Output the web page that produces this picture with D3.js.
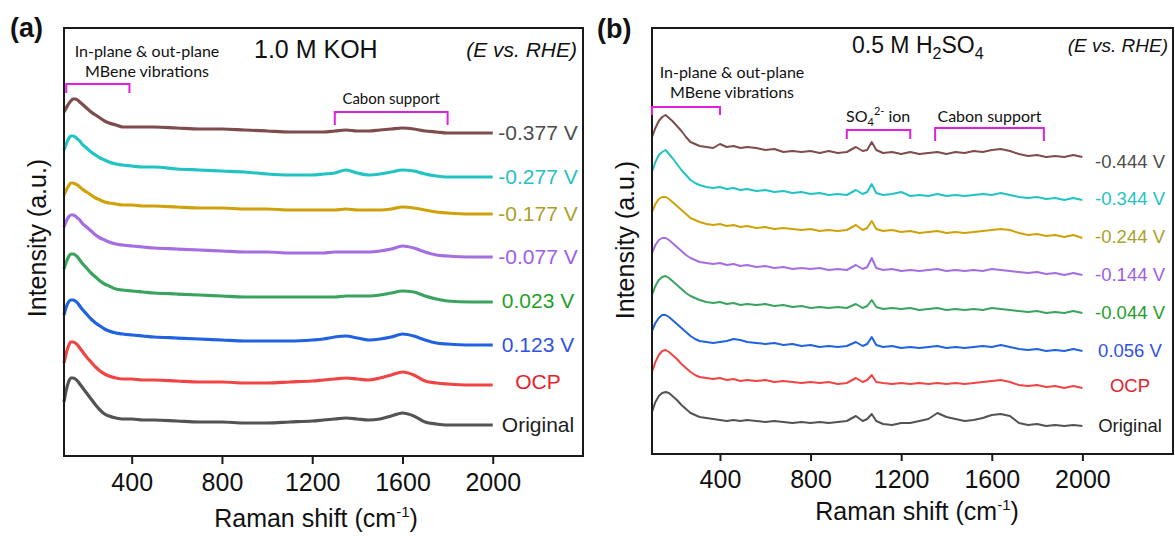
<!DOCTYPE html>
<html>
<head>
<meta charset="utf-8">
<script src="https://cdn.jsdelivr.net/npm/d3@7"></script>
<style>
  body { margin: 0; background: #fff; }
  text { font-family: "Liberation Sans", Arial, sans-serif; }
  .note { font-family: Lato, "Open Sans", sans-serif; }
</style>
</head>
<body>
<svg id="fig" width="1175" height="536"></svg>
<script>
// ---- data (intensity in a.u., each curve relative to its own baseline) ----
const kohShift = [100,110,120,130,140,150,160,170,180,200,220,240,260,280,300,330,360,
  400,450,500,600,700,800,900,1000,1100,1200,1250,1300,1350,1400,1450,1500,1550,1600,
  1650,1700,1750,1800,1900,2000];
const kohLabels = ["-0.377 V","-0.277 V","-0.177 V","-0.077 V","0.023 V","0.123 V","OCP","Original"];
const kohOffsets = [323, 279, 242, 199, 154, 111, 71, 31];
const kohSpectra = [
  [21,25,29,32,34,34,33,31,29, 25,21,18,15,12,10,8,6, 6,6,6,5,4,4,3, 2,1,1,1, 2,3,2,2,3,4,5,4,2,1,0, 0,0],
  [27,33,38,41,41,40,38,36,33, 29,25,22,19,17,15,13,12, 11,10,10,8,7,6,5, 3,2,2,3, 4,7,4,2,3,5,7,6,3,1,0, 0,0],
  [19,24,28,31,31,30,29,27,25, 22,19,16,14,12,11,10,9, 9,8,8,7,6,6,5, 5,4,4,4, 4,5,4,4,4,5,7,6,4,2,1, 0,0],
  [30,36,40,42,42,41,39,37,34, 30,26,22,19,17,15,13,12, 11,10,9,8,7,6,5, 5,4,4,4, 5,5,5,5,6,8,11,9,5,2,1, 0,0],
  [33,40,45,48,48,47,45,42,39, 34,29,25,21,18,16,13,12, 11,10,9,8,7,6,5, 5,5,5,5, 5,6,6,6,7,9,11,10,6,3,1, 0,0],
  [30,38,43,45,45,44,42,39,36, 31,26,22,19,16,14,12,11, 10,9,8,7,6,5,4, 4,4,5,6, 8,9,7,5,6,8,11,9,5,2,1, 0,0],
  [22,32,39,43,43,42,40,37,34, 28,23,18,14,11,9,7,6, 6,5,5,4,3,3,2, 2,3,4,5, 6,7,6,5,7,10,13,10,4,2,1, 0,0],
  [23,35,43,47,47,46,44,41,38, 32,26,20,15,11,9,7,6, 6,5,5,4,3,3,2, 2,3,4,5, 6,7,6,5,6,9,12,9,3,1,0, 0,0]
];

const acidShift = [100,115,130,145,160,175,190,210,230,250,270,290,310,340,370,400,430,460,490,520,
  560,600,640,680,720,760,800,840,880,920,960,1000,1030,1050,1070,1090,1120,
  1160,1200,1240,1280,1320,1360,1400,1440,1480,1520,1560,1600,1640,1680,1720,1760,1800,1840,1880,1920,1960,2000];
const acidLabels = ["-0.444 V","-0.344 V","-0.244 V","-0.144 V","-0.044 V","0.056 V","OCP","Original"];
const acidOffsets = [297, 254, 216, 179, 141, 103, 66, 28];
const acidSpectra = [
  [20,29,36,40,42,39,36,31,26,20,15,13,11,10,9,13,10,11,9,10,9,7,8,5,6,5,6,4,6,4,5,10,6,7,15,7,4,5,3,5,3,4,5,3,5,4,6,5,7,8,6,3,1,2,0,1,0,2,0],
  [28,38,45,48,50,46,42,36,30,25,20,17,15,13,12,13,11,12,10,11,9,10,8,9,7,8,6,7,5,6,5,10,6,8,16,7,5,6,8,4,5,4,6,4,5,4,5,6,5,7,5,3,2,3,1,2,0,2,0],
  [26,34,39,41,41,39,36,32,28,24,20,18,16,14,13,14,12,13,11,12,10,11,9,10,9,8,9,7,8,7,8,13,8,10,17,9,7,8,6,7,5,6,7,5,6,5,6,7,8,9,8,5,3,4,2,3,1,3,0],
  [22,30,35,37,37,35,32,28,24,20,17,15,13,12,11,12,10,11,9,10,8,9,7,8,6,7,6,7,5,6,5,10,6,8,17,7,5,6,4,5,4,5,6,4,5,4,5,4,6,5,4,3,2,3,1,2,0,2,0],
  [18,27,33,36,37,35,32,28,24,20,17,15,13,11,10,11,9,10,8,9,8,9,7,8,6,7,5,6,5,6,5,9,5,7,13,6,4,5,4,5,3,4,5,3,4,3,4,3,5,4,3,2,1,2,0,1,0,2,0],
  [20,28,33,36,36,34,31,27,23,19,15,12,10,9,8,9,10,12,11,9,8,7,8,6,7,5,6,4,5,4,5,9,5,7,14,6,4,5,3,4,3,4,5,3,4,3,4,5,4,6,4,2,1,2,0,1,0,2,0],
  [16,26,33,37,38,36,33,29,24,20,16,13,11,10,9,10,8,9,7,8,7,8,6,7,6,5,6,5,6,4,5,10,6,8,13,6,5,4,5,4,5,4,5,4,5,4,5,6,7,8,6,3,2,3,1,2,0,2,0],
  [14,24,30,33,34,33,30,26,21,17,13,11,9,8,7,6,5,6,5,6,5,4,5,4,3,4,3,4,3,4,5,10,5,7,12,5,2,1,3,3,5,7,13,9,7,5,6,8,11,12,10,3,1,2,0,1,0,1,0]
];

const tickValues = [400, 800, 1200, 1600, 2000];
const shiftDomain = [100, 2400];

// ---- styles ----
const lineColors = ["#7d4c4c", "#22c3c3", "#cfa20a", "#a46ee2", "#3aa35f", "#2062e0", "#f04545", "#535353"];
const labelColors = ["#4d4d4d", "#28c0c4", "#aaa12a", "#9d5ee8", "#24a02a", "#2f52e6", "#e8222a", "#1e1e1e"];
const magenta = "#e21ee0";

const svg = d3.select("#fig");

function drawPanel(p) {
  const x = d3.scaleLinear().domain(shiftDomain).range([p.left, p.right]);
  const y = d3.scaleLinear().domain([0, p.bottom - p.top]).range([p.bottom, p.top]);
  const g = svg.append("g");

  const line = d3.line()
    .x((d, i) => x(p.shift[i]))
    .y(d => y(d))
    .curve(p.curve);

  p.spectra.forEach((s, k) => {
    g.append("path")
      .datum(s.map(v => v + p.offsets[k]))
      .attr("d", line)
      .attr("fill", "none")
      .attr("stroke", lineColors[k])
      .attr("stroke-width", p.lineWidth)
      .attr("stroke-linejoin", "round");
  });

  g.selectAll(".lbl")
    .data(p.labels)
    .enter().append("text")
      .attr("x", p.labelX)
      .attr("y", (d, k) => y(p.offsets[k]) + (p.labelNudge[k] || 0))
      .attr("dy", "0.35em")
      .attr("text-anchor", "middle")
      .attr("font-size", p.labelSize)
      .attr("fill", (d, k) => labelColors[k])
      .text(d => d);

  // frame
  g.append("rect")
    .attr("x", p.left).attr("y", p.top)
    .attr("width", p.right - p.left).attr("height", p.bottom - p.top)
    .attr("fill", "none").attr("stroke", "#1a1a1a").attr("stroke-width", 2);

  const ax = g.append("g")
    .attr("transform", `translate(0,${p.bottom})`)
    .call(d3.axisBottom(x).tickValues(tickValues).tickSize(p.tickSize).tickPadding(9).tickFormat(d3.format("d")));
  ax.select(".domain").remove();
  ax.selectAll(".tick line").attr("stroke", "#1a1a1a").attr("stroke-width", 2);
  ax.selectAll(".tick text")
    .attr("font-size", 25).attr("fill", "#111")
    .attr("font-family", "'Liberation Sans', Arial, sans-serif");

  // axis titles
  const xt = g.append("text")
    .attr("x", p.xTitle[0]).attr("y", p.xTitle[1])
    .attr("text-anchor", "middle").attr("font-size", 25).attr("fill", "#111");
  xt.append("tspan").text("Raman shift (cm");
  xt.append("tspan").attr("dy", -10).attr("font-size", 15).text("-1");
  xt.append("tspan").attr("dy", 10).text(")");

  g.append("text")
    .attr("transform", `translate(${p.yTitle[0]},${p.yTitle[1]}) rotate(-90)`)
    .attr("text-anchor", "middle").attr("font-size", 25).attr("fill", "#111")
    .text("Intensity (a.u.)");

  // panel tag
  g.append("text")
    .attr("x", p.tag[0]).attr("y", p.tag[1])
    .attr("font-size", 27).attr("font-weight", "bold").attr("fill", "#111")
    .attr("font-family", "'Open Sans', 'Liberation Sans', sans-serif")
    .text(p.tagText);

  g.append("text")
    .attr("x", p.rhe[0]).attr("y", p.rhe[1])
    .attr("text-anchor", "end").attr("font-size", p.rheSize)
    .attr("font-style", "italic").attr("fill", "#111")
    .text("(E vs. RHE)");

  // brackets
  p.brackets.forEach(b => {
    const x0 = x(b.from), x1 = x(b.to);
    g.append("path")
      .attr("d", `M${x0},${b.y + b.drop}V${b.y}H${x1}V${b.y + b.drop}`)
      .attr("fill", "none").attr("stroke", magenta).attr("stroke-width", 2);
  });

  return { g, x, y };
}

const a = drawPanel({
  left: 64, right: 583, top: 28, bottom: 456,
  shift: kohShift, spectra: kohSpectra, offsets: kohOffsets, labels: kohLabels,
  curve: d3.curveMonotoneX, lineWidth: 3.2,
  labelX: 538, labelSize: 21, labelNudge: [0, 0, 0, 0, -1, 0, -3, 0],
  tickSize: 8,
  xTitle: [316, 527], yTitle: [46, 238],
  tag: [10, 37], tagText: "(a)",
  rhe: [577, 57], rheSize: 21,
  brackets: [{ from: 110, to: 390, y: 84, drop: 9 }, { from: 1300, to: 1800, y: 112, drop: 13 }]
});

a.g.append("text").attr("x", 254).attr("y", 58)
  .attr("font-size", 25).attr("fill", "#111").text("1.0 M KOH");
a.g.append("text").attr("class", "note").attr("x", 147).attr("y", 57)
  .attr("text-anchor", "middle").attr("font-size", 16).attr("fill", "#111").text("In-plane & out-plane");
a.g.append("text").attr("class", "note").attr("x", 147).attr("y", 77)
  .attr("text-anchor", "middle").attr("font-size", 16).attr("fill", "#111").text("MBene vibrations");
a.g.append("text").attr("class", "note").attr("x", a.x(1550)).attr("y", 104)
  .attr("text-anchor", "middle").attr("font-size", 15).attr("fill", "#111").text("Cabon support");

const b = drawPanel({
  left: 652, right: 1173, top: 28, bottom: 454,
  shift: acidShift, spectra: acidSpectra, offsets: acidOffsets, labels: acidLabels,
  curve: d3.curveLinear, lineWidth: 2,
  labelX: 1130, labelSize: 18.5, labelNudge: [5, -1, -1, 0, 0, 0, -2, 0],
  tickSize: 7,
  xTitle: [917, 520], yTitle: [634, 240],
  tag: [597, 38], tagText: "(b)",
  rhe: [1168, 52], rheSize: 19,
  brackets: [{ from: 100, to: 400, y: 107, drop: 8 }, { from: 960, to: 1240, y: 130, drop: 9 },
             { from: 1350, to: 1830, y: 128, drop: 13 }]
});

const t2 = b.g.append("text").attr("x", 852).attr("y", 53).attr("font-size", 23).attr("fill", "#111");
t2.append("tspan").text("0.5 M H");
t2.append("tspan").attr("dy", 6).attr("font-size", 16).text("2");
t2.append("tspan").attr("dy", -6).text("SO");
t2.append("tspan").attr("dy", 6).attr("font-size", 16).text("4");

b.g.append("text").attr("class", "note").attr("x", 732).attr("y", 78)
  .attr("text-anchor", "middle").attr("font-size", 16).attr("fill", "#111").text("In-plane & out-plane");
b.g.append("text").attr("class", "note").attr("x", 732).attr("y", 98)
  .attr("text-anchor", "middle").attr("font-size", 16).attr("fill", "#111").text("MBene vibrations");
b.g.append("text").attr("class", "note").attr("x", b.x(1590)).attr("y", 122)
  .attr("text-anchor", "middle").attr("font-size", 16).attr("fill", "#111").text("Cabon support");

const so4 = b.g.append("text").attr("class", "note").attr("x", 846).attr("y", 122)
  .attr("font-size", 16).attr("fill", "#111");
so4.append("tspan").text("SO");
so4.append("tspan").attr("dy", 4).attr("font-size", 11).text("4");
so4.append("tspan").attr("dy", -11).attr("font-size", 11).text("2-");
so4.append("tspan").attr("dy", 7).text(" ion");
</script>
</body>
</html>
